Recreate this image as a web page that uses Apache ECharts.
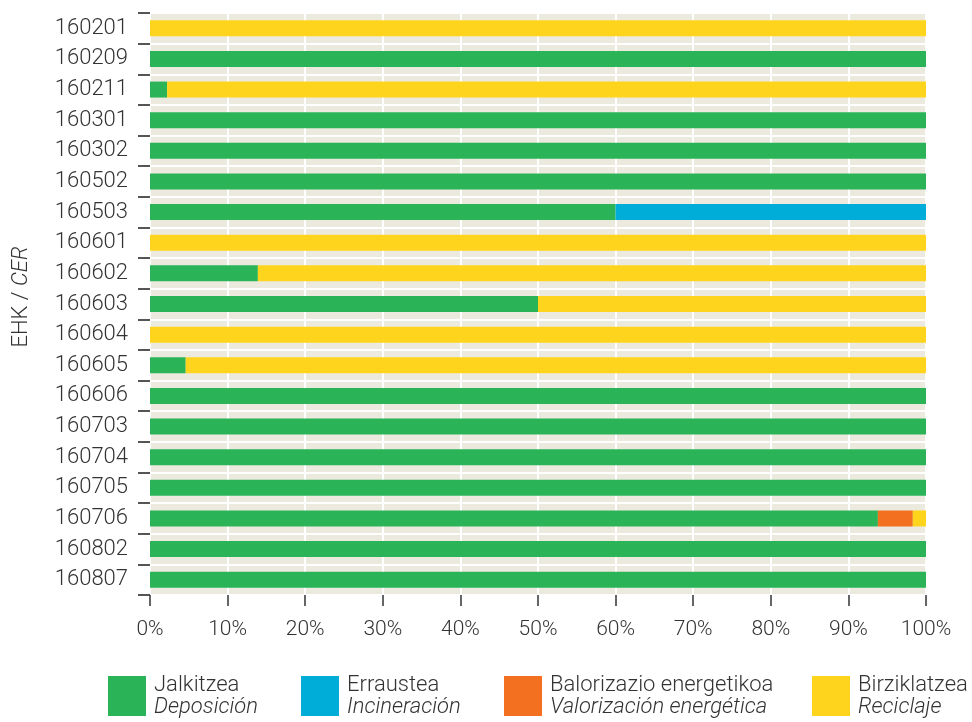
<!DOCTYPE html>
<html>
<head>
<meta charset="utf-8">
<script src="https://cdn.jsdelivr.net/npm/echarts@6/dist/echarts.min.js"></script>
<style>
  html, body { margin: 0; padding: 0; background: #ffffff; }
  #chart { width: 972px; height: 722px; }
</style>
</head>
<body>
<div id="chart"></div>
<script>
const categories = ['160201', '160209', '160211', '160301', '160302', '160502', '160503', '160601', '160602', '160603',
  '160604', '160605', '160606', '160703', '160704', '160705', '160706', '160802', '160807']

// share of each treatment, percent
const deposicion = [0, 100, 2.2, 100, 100, 100, 60, 0, 13.9, 50, 0, 4.6, 100, 100, 100, 100, 93.8, 100, 100]
const incineracion = [0, 0, 0, 0, 0, 0, 40, 0, 0, 0, 0, 0, 0, 0, 0, 0, 0, 0, 0]
const valorizacion = [0, 0, 0, 0, 0, 0, 0, 0, 0, 0, 0, 0, 0, 0, 0, 0, 4.5, 0, 0]
const reciclaje = [100, 0, 97.8, 0, 0, 0, 0, 100, 86.1, 50, 100, 95.4, 0, 0, 0, 0, 1.7, 0, 0]

const seriesNames = [
  ['Jalkitzea', 'Deposición'],
  ['Erraustea', 'Incineración'],
  ['Balorizazio energetikoa', 'Valorización energética'],
  ['Birziklatzea', 'Reciclaje'],
]
const colors = ['#2bb457', '#00acd8', '#f37021', '#fed51c']
const legendLeft = [108, 301, 504, 812]

const font = 'Roboto, "Helvetica Neue", Arial, sans-serif'
const textColor = '#333333'

const chart = echarts.init(document.getElementById('chart'))

function makeSeries(idx, values) {
  return {
    name: seriesNames[idx][0],
    type: 'bar',
    stack: 'total',
    barWidth: 16,
    itemStyle: { color: colors[idx] },
    emphasis: { disabled: true },
    data: values,
  }
}

// one legend per entry so each block sits where it does in the print
function makeLegend(idx) {
  return {
    left: legendLeft[idx],
    top: 674,
    padding: 0,
    itemWidth: 38,
    itemHeight: 40,
    icon: 'rect',
    selectedMode: false,
    formatter: () => '{a|' + seriesNames[idx][0] + '}\n{b|' + seriesNames[idx][1] + '}',
    textStyle: {
      padding: [0, 0, 0, 3],
      rich: {
        a: { fontFamily: font, fontWeight: 300, fontSize: 22, color: textColor, lineHeight: 22 },
        b: { fontFamily: font, fontWeight: 300, fontStyle: 'italic', fontSize: 22, color: textColor, lineHeight: 22 },
      },
    },
    data: [{ name: seriesNames[idx][0], itemStyle: { color: colors[idx] } }],
  }
}

chart.setOption({
  animation: false,
  textStyle: { fontFamily: font },
  grid: {
    left: 150,
    right: 46,
    top: 13,
    bottom: 127,
    outerBoundsMode: 'none',
    containLabel: false,
    show: true,
    backgroundColor: '#ece9df',
    borderWidth: 0,
  },
  legend: [0, 1, 2, 3].map(makeLegend),
  xAxis: {
    type: 'value',
    min: 0,
    max: 100,
    interval: 10,
    axisLine: { show: false },
    axisTick: { show: true, length: 11, lineStyle: { color: '#333333', width: 1.5 } },
    axisLabel: {
      formatter: '{value}%',
      margin: 24,
      fontSize: 21,
      fontWeight: 300,
      color: textColor,
    },
    splitLine: { show: true, lineStyle: { color: '#ffffff', width: 2 } },
  },
  yAxis: {
    type: 'category',
    data: categories,
    inverse: true,
    name: '{a|EHK / }{b|CER}',
    nameLocation: 'middle',
    nameRotate: 90,
    nameGap: 118,
    nameTextStyle: {
      padding: [0, 0, 0, 14],
      rich: {
        a: { fontFamily: font, fontWeight: 300, fontSize: 22, color: textColor },
        b: { fontFamily: font, fontWeight: 300, fontStyle: 'italic', fontSize: 22, color: textColor },
      },
    },
    axisLine: { show: false },
    axisTick: { show: true, length: 12, lineStyle: { color: '#555555', width: 2 } },
    axisLabel: {
      margin: 22,
      fontSize: 22,
      fontWeight: 300,
      color: textColor,
    },
    splitLine: { show: true, lineStyle: { color: '#ffffff', width: 2 } },
  },
  series: [
    makeSeries(0, deposicion),
    makeSeries(1, incineracion),
    makeSeries(2, valorizacion),
    makeSeries(3, reciclaje),
  ],
})
</script>
</body>
</html>
